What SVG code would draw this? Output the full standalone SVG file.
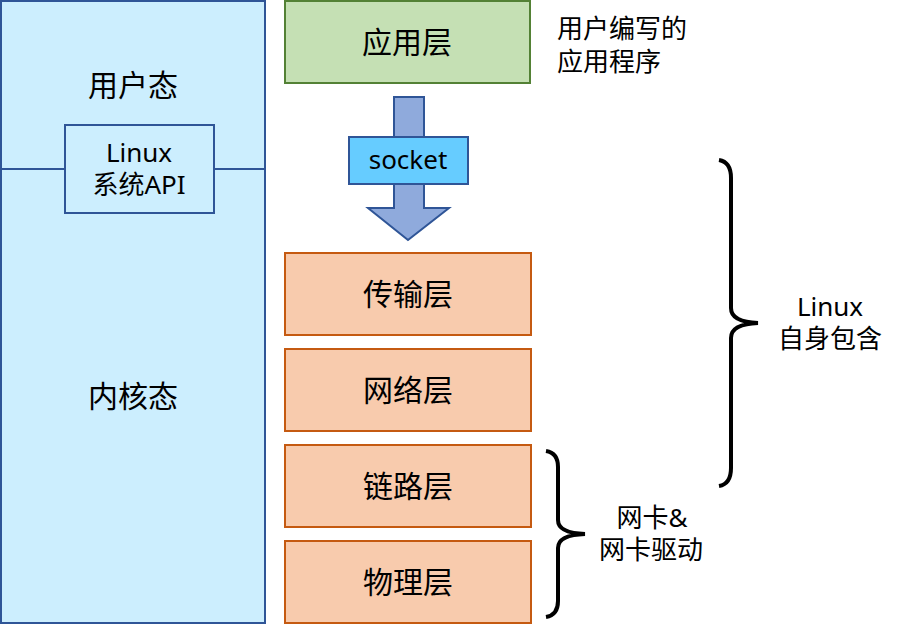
<svg xmlns="http://www.w3.org/2000/svg" width="918" height="625" viewBox="0 0 918 625">
<style>
text{font-family:"Noto Sans","Noto Sans CJK SC",sans-serif;fill:#000;text-anchor:middle}
.big{font-size:30px}
.sm{font-size:26px}
.layer{fill:#f8cbad;stroke:#c55a11;stroke-width:2}
.brace{fill:none;stroke:#000;stroke-width:4}
</style>
<rect width="918" height="625" fill="#fff"/>
<g id="left-panel">
<rect x="1" y="1" width="264" height="622" fill="#cceefe" stroke="#2f5597" stroke-width="2"/>
<line x1="1" y1="169" x2="265" y2="169" stroke="#2f5597" stroke-width="2"/>
<text class="big" x="133" y="96">用户态</text>
<text class="big" x="133" y="407">内核态</text>
</g>
<g id="linux-api">
<rect x="65" y="125" width="149" height="88" fill="#cceefe" stroke="#2f5597" stroke-width="2"/>
<text class="sm" x="139" y="162">Linux</text>
<text class="sm" x="139" y="194">系统API</text>
</g>
<g id="app-layer">
<rect x="285" y="1" width="245" height="82" fill="#c5e0b4" stroke="#538135" stroke-width="2"/>
<text class="big" x="407" y="53">应用层</text>
</g>
<g id="app-note">
<text class="sm" x="557" y="38" style="text-anchor:start">用户编写的</text>
<text class="sm" x="557" y="71" style="text-anchor:start">应用程序</text>
</g>
<g id="connectors">
<path d="M394,97 H424 V208 H449 L408,240 L368,208 H394 Z" fill="#8faadc" stroke="#2f5597" stroke-width="2"/>
</g>
<g id="socket">
<rect x="349" y="137" width="119" height="47" fill="#66ccff" stroke="#2f5597" stroke-width="2"/>
<text class="sm" x="408" y="169">socket</text>
</g>
<g id="transport">
<rect class="layer" x="285" y="253" width="246" height="82"/>
<text class="big" x="408" y="305">传输层</text>
</g>
<g id="network">
<rect class="layer" x="285" y="349" width="246" height="82"/>
<text class="big" x="408" y="401">网络层</text>
</g>
<g id="link">
<rect class="layer" x="285" y="445" width="246" height="82"/>
<text class="big" x="408" y="497">链路层</text>
</g>
<g id="physical">
<rect class="layer" x="285" y="541" width="246" height="82"/>
<text class="big" x="408" y="593">物理层</text>
</g>
<g id="brace-linux">
<path class="brace" d="M719,160 Q731,162 731,178 V308 Q731,322 758,323 Q731,324 731,338 V468 Q731,484 719,486"/>
<text class="sm" x="830" y="316">Linux</text>
<text class="sm" x="830" y="348">自身包含</text>
</g>
<g id="brace-nic">
<path class="brace" d="M546,451 Q558,453 558,467 V520 Q558,533 585,534 Q558,535 558,548 V601 Q558,615 546,617"/>
<text class="sm" x="652" y="527">网卡&amp;</text>
<text class="sm" x="651" y="559">网卡驱动</text>
</g>
</svg>
